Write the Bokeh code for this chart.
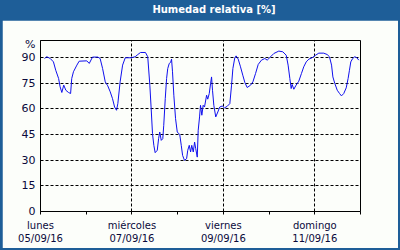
from bokeh.plotting import figure
from bokeh.models import Div, Spacer, FixedTicker, Range1d
from bokeh.layouts import column, row
from bokeh.embed import file_html
from bokeh.resources import INLINE

# hours since Monday 05/09/16 00:00
hours = [2.1, 3.3, 5.1, 6.8, 8.0, 9.5, 10.3, 11.2, 12.2, 13.3, 14.7, 15.8, 16.4, 17.3, 19.1, 20.3,
         24.3, 25.6, 27.3, 30.1, 31.3, 32.6, 34.0, 35.3, 36.6, 37.8, 38.9, 39.9, 40.6, 41.8, 43.1, 44.5,
         47.6, 49.7, 51.1, 52.5, 55.1, 56.3, 57.4, 58.1, 58.8, 59.5, 60.2, 61.3, 62.0, 62.6, 63.4, 64.2,
         64.7, 65.5, 66.2, 66.8, 67.6, 68.3, 68.8, 69.3, 70.0, 70.9, 71.8, 73.1, 73.9, 74.6, 75.6, 76.7,
         77.3, 78.1, 78.8, 79.4, 80.2, 80.9, 81.5, 82.3, 82.8, 83.5, 84.0, 84.7, 85.4, 86.1, 87.2, 87.8,
         88.6, 89.3, 89.8, 90.3, 91.0, 92.0, 93.1, 94.1, 95.4, 96.6, 98.0, 99.4, 100.3, 101.0, 102.0, 102.7,
         103.8, 105.0, 106.2, 107.3, 108.5, 110.3, 111.5, 112.9, 114.3, 116.0, 117.8, 119.0, 120.8, 122.5,
         125.1, 127.2, 129.0, 130.0, 130.9, 131.6, 132.1, 133.0, 134.2, 135.6, 137.0, 138.2, 139.5, 140.9,
         142.6, 144.4, 146.1, 148.7, 150.5, 151.7, 152.8, 153.5, 154.5, 155.8, 157.0, 158.0, 159.2, 160.5,
         161.5, 162.2, 162.9, 163.9, 165.0, 166.1, 167.1]
humidity = [89.5, 90.5, 89.5, 87.5, 82.6, 77.8, 72.9, 69.6, 73.9, 70.9, 69.6, 69.0, 77.8, 81.7, 85.6, 87.9,
            88.1, 86.6, 90.3, 90.3, 89.5, 83.6, 75.8, 73.5, 70.0, 66.0, 61.1, 59.2, 63.1, 75.8, 85.6, 89.9,
            89.9, 90.5, 91.8, 93.0, 93.0, 90.5, 73.9, 60.2, 45.5, 38.7, 34.4, 35.8, 42.6, 46.5, 41.6, 42.6,
            50.4, 66.0, 77.8, 83.6, 86.6, 87.2, 89.1, 81.7, 68.0, 54.3, 46.5, 45.0, 38.7, 32.8, 29.9, 30.9,
            35.8, 38.7, 34.8, 38.7, 34.8, 40.6, 36.7, 31.8, 47.5, 55.3, 62.1, 56.3, 62.1, 61.1, 68.0, 65.7,
            69.0, 74.9, 78.7, 70.9, 62.1, 55.3, 58.2, 61.1, 61.7, 60.6, 61.5, 63.1, 73.9, 83.6, 89.9, 91.0,
            89.1, 84.6, 79.7, 75.4, 72.5, 73.9, 75.8, 80.7, 86.0, 88.5, 89.5, 88.5, 90.5, 92.4,
            93.8, 93.4, 91.4, 85.6, 77.8, 71.9, 74.3, 71.5, 73.9, 76.2, 80.7, 84.6, 87.5, 89.1,
            89.9, 91.4, 92.6, 92.6, 91.8, 90.5, 85.6, 78.7, 74.9, 70.9, 69.0, 67.6, 69.0, 72.3,
            77.8, 82.6, 87.5, 89.5, 90.5, 89.9, 88.5]

x_major = [0, 48, 96, 144]
x_minor = [24, 72, 120, 168]
x_labels = ["lunes\n05/09/16", "miércoles\n07/09/16", "viernes\n09/09/16", "domingo\n11/09/16"]
y_ticks = [0, 15, 30, 45, 60, 75, 90]
unit_pos = 97.5
title_text = "Humedad relativa [%]"
unit_text = "%"

BLUE = "#1e5e98"
BG = "#fcfefa"
TXT = "#0a0a3a"
FONT = "DejaVu Sans"

p = figure(width=396, height=228, output_backend="svg", toolbar_location=None,
           x_range=Range1d(0, 168), y_range=Range1d(0, 100),
           min_border_left=38, min_border_right=38, min_border_top=20, min_border_bottom=37,
           background_fill_color=BG, border_fill_color=BG)
p.outline_line_color = "black"
p.outline_line_width = 1

p.line(hours, humidity, line_color="#1010ee", line_width=1)

xa = p.xaxis[0]
xa.ticker = FixedTicker(ticks=x_major, minor_ticks=x_minor)
xa.major_label_overrides = {t: l for t, l in zip(x_major, x_labels)}
xa.major_tick_out = 3
xa.major_tick_in = 0
xa.minor_tick_out = 3
xa.minor_tick_in = 0
xa.axis_line_color = "black"
xa.major_tick_line_color = "black"
xa.minor_tick_line_color = "black"
xa.major_label_text_font = FONT
xa.major_label_text_font_size = "10px"
xa.major_label_text_color = TXT
xa.major_label_standoff = 5

ya = p.yaxis[0]
ya.ticker = FixedTicker(ticks=y_ticks + [unit_pos], minor_ticks=[])
ya.major_label_overrides = {unit_pos: unit_text}
ya.major_tick_out = 0
ya.major_tick_in = 0
ya.minor_tick_out = 0
ya.minor_tick_in = 0
ya.axis_line_color = "black"
ya.major_label_text_font = FONT
ya.major_label_text_font_size = "11px"
ya.major_label_text_color = TXT
ya.major_label_standoff = 5

p.xgrid.ticker = FixedTicker(ticks=x_major[1:])
p.xgrid.grid_line_color = "black"
p.xgrid.grid_line_dash = "3 2"
p.ygrid.ticker = FixedTicker(ticks=y_ticks[1:])
p.ygrid.grid_line_color = "black"
p.ygrid.grid_line_dash = "3 2"

title = Div(text=title_text, width=400, height=20,
            styles={"background-color": BLUE, "color": "white", "font-weight": "bold",
                    "font-family": FONT, "font-size": "10px", "text-align": "center",
                    "line-height": "20px", "padding-left": "28px", "box-sizing": "border-box",
                    "margin": "0"})
side = {"background-color": BLUE}
layout = column(
    title,
    row(Spacer(width=2, height=228, styles=side), p, Spacer(width=2, height=228, styles=side), spacing=0),
    Spacer(width=400, height=2, styles=side),
    spacing=0, styles={"background-color": BLUE},
)

open("out.html", "w").write(file_html(layout, INLINE))
